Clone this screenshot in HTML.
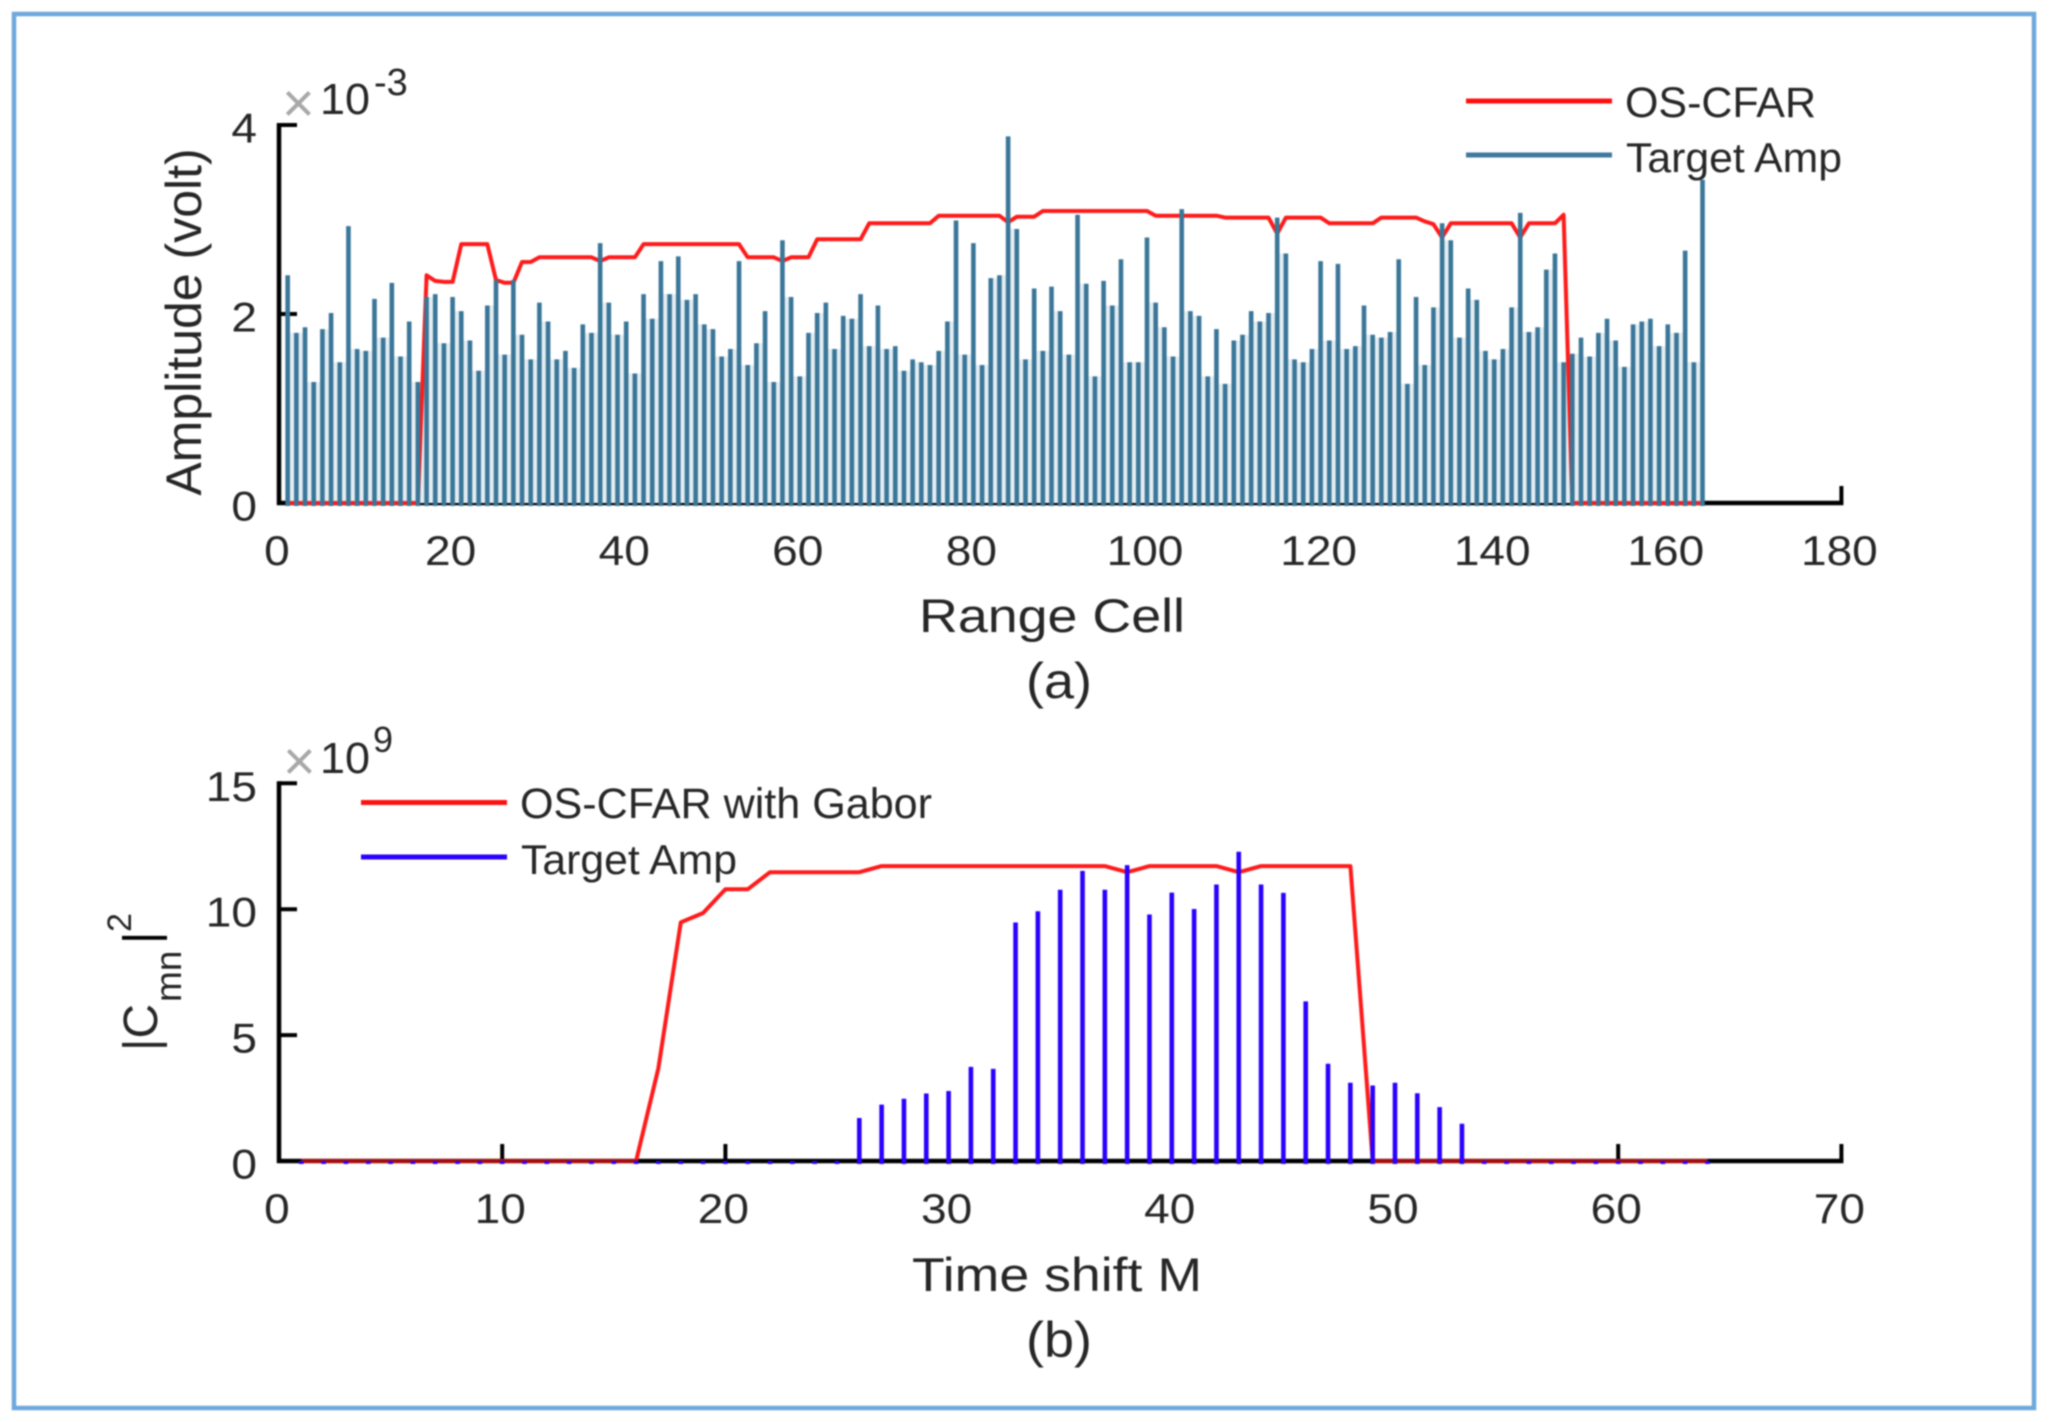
<!DOCTYPE html>
<html lang="en">
<head>
<meta charset="utf-8">
<title>OS-CFAR range cell and time shift charts</title>
<style>
html,body{margin:0;padding:0;background:#fff;width:2050px;height:1422px;overflow:hidden}
svg{display:block;filter:blur(0.85px)}
text{font-family:"Liberation Sans",sans-serif;fill:#262626}
</style>
</head>
<body>
<svg id="figure" xmlns="http://www.w3.org/2000/svg" width="2050" height="1422" viewBox="0 0 2050 1422">
  <rect x="14" y="14" width="2020" height="1394" fill="#fff" stroke="#6fa8dc" stroke-width="4.5"/>

  <g id="plotA"></g>
  <g id="plotB"></g>

  <g>
    <text x="282" y="122" font-size="56" style="fill:#a8a8a8">×</text>
    <text x="320" y="114" font-size="44" textLength="50" lengthAdjust="spacingAndGlyphs">10</text>
    <text x="374" y="95" font-size="38">-3</text>
  </g>
  <text transform="translate(201 322) rotate(-90)" text-anchor="middle" font-size="50">Amplitude (volt)</text>
  <text x="1052" y="632" text-anchor="middle" font-size="47" textLength="266" lengthAdjust="spacingAndGlyphs">Range Cell</text>
  <text x="1059" y="698" text-anchor="middle" font-size="50" textLength="66" lengthAdjust="spacingAndGlyphs">(a)</text>

  <g>
    <line x1="1466" x2="1612" y1="101" y2="101" stroke="#ff1010" stroke-width="5"/>
    <text x="1625" y="117" font-size="42.5" textLength="191" lengthAdjust="spacingAndGlyphs">OS-CFAR</text>
    <line x1="1466" x2="1612" y1="155" y2="155" stroke="#3f7a9c" stroke-width="5"/>
    <text x="1626" y="172" font-size="42" textLength="216" lengthAdjust="spacingAndGlyphs">Target Amp</text>
  </g>

  <g>
    <text x="283" y="780" font-size="56" style="fill:#a8a8a8">×</text>
    <text x="320" y="773" font-size="44" textLength="50" lengthAdjust="spacingAndGlyphs">10</text>
    <text x="373" y="752" font-size="36">9</text>
  </g>
  <g>
    <text transform="translate(157 1051) rotate(-90)" font-size="48">|C</text>
    <text transform="translate(181 1002) rotate(-90)" font-size="37">mn</text>
    <text transform="translate(157 944) rotate(-90)" font-size="48" style="fill:#000">|</text>
    <text transform="translate(131 932) rotate(-90)" font-size="34">2</text>
  </g>
  <text x="1057" y="1291" text-anchor="middle" font-size="47" textLength="290" lengthAdjust="spacingAndGlyphs">Time shift M</text>
  <text x="1059" y="1357" text-anchor="middle" font-size="50" textLength="66" lengthAdjust="spacingAndGlyphs">(b)</text>

  <g>
    <line x1="361" x2="507" y1="802.5" y2="802.5" stroke="#ff1010" stroke-width="5"/>
    <text x="520" y="818" font-size="43" textLength="412" lengthAdjust="spacingAndGlyphs">OS-CFAR with Gabor</text>
    <line x1="361" x2="507" y1="857" y2="857" stroke="#2a00ff" stroke-width="5"/>
    <text x="521" y="874" font-size="42" textLength="216" lengthAdjust="spacingAndGlyphs">Target Amp</text>
  </g>
</svg>

<script>
/* chart (a) data: index 0 = range cell 1 */
const xTicksA = [0, 20, 40, 60, 80, 100, 120, 140, 160, 180];
const yTicksA = [0, 2, 4];
const targetAmpA = [
2.41,1.80,1.86,1.28,1.84,2.01,1.49,2.93,1.63,1.61,
2.16,1.75,2.33,1.55,1.92,1.28,2.18,2.21,1.69,2.18,
2.03,1.72,1.40,2.09,2.36,1.57,2.36,1.78,1.52,2.12,
1.92,1.52,1.61,1.43,1.89,1.80,2.75,2.12,1.78,1.92,
1.37,2.21,1.95,2.56,2.21,2.61,2.15,2.21,1.89,1.84,
1.55,1.63,2.56,1.46,1.69,2.03,1.28,2.78,2.18,1.34,
1.80,2.01,2.12,1.63,1.98,1.95,2.21,1.66,2.09,1.63,
1.66,1.40,1.52,1.49,1.46,1.61,1.92,2.99,1.57,2.75,
1.46,2.38,2.41,3.88,2.90,1.52,2.27,1.61,2.29,2.03,
1.57,3.05,2.32,1.34,2.35,2.09,2.58,1.49,1.49,2.81,
2.12,1.86,1.55,3.11,2.03,1.98,1.34,1.84,1.26,1.72,
1.78,2.03,1.92,2.01,3.02,2.64,1.52,1.49,1.63,2.56,
1.72,2.53,1.63,1.66,2.09,1.78,1.75,1.81,2.58,1.26,
2.18,1.46,2.07,2.96,2.78,1.75,2.27,2.15,1.61,1.52,
1.63,2.07,3.07,1.81,1.86,2.47,2.64,1.49,1.58,1.75,
1.55,1.80,1.95,1.72,1.44,1.89,1.92,1.95,1.66,1.89,
1.80,2.67,1.49,3.42];
const osCfarA = [
0,0,0,0,0,0,0,0,0,0,0,0,0,0,0,0,
2.41,2.35,2.34,2.34,
2.74,2.74,2.74,2.74,
2.36,2.33,2.33,2.55,2.55,
2.60,2.60,2.60,2.60,2.60,2.60,2.60,
2.56,
2.60,2.60,2.60,2.60,
2.74,2.74,2.74,2.74,2.74,2.74,2.74,2.74,2.74,2.74,2.74,2.74,
2.60,2.60,2.60,2.60,
2.56,
2.60,2.60,2.60,
2.79,2.79,2.79,2.79,2.79,2.79,
2.96,2.96,2.96,2.96,2.96,2.96,2.96,2.96,
3.04,3.04,3.04,3.04,3.04,3.04,3.04,3.04,
2.97,
3.03,3.03,3.03,
3.09,3.09,3.09,3.09,3.09,3.09,3.09,3.09,3.09,3.09,3.09,3.09,3.09,
3.04,3.04,3.04,3.04,3.04,3.04,3.04,3.04,
3.02,3.02,3.02,3.02,3.02,3.02,
2.85,
3.02,3.02,3.02,3.02,3.02,
2.96,2.96,2.96,2.96,2.96,2.96,
3.02,3.02,3.02,3.02,3.02,
2.98,2.95,2.81,
2.96,2.96,2.96,2.96,2.96,2.96,2.96,2.96,
2.81,
2.96,2.96,2.96,2.96,
3.05,
0,0,0,0,0,0,0,0,0,0,0,0,0,0,0,0];

/* chart (b) data: index 0 = time shift 1 */
const xTicksB = [0, 10, 20, 30, 40, 50, 60, 70];
const yTicksB = [0, 5, 10, 15];
const targetAmpB = [
0,0,0,0,0,0,0,0,0,0,0,0,0,0,0,0,0,0,0,0,0,0,0,0,0,
1.71,2.24,2.47,2.68,2.78,3.74,3.66,9.47,9.92,10.77,
11.52,10.77,11.75,9.79,10.66,10.01,10.98,12.28,10.98,10.65,
6.34,3.86,3.11,3.00,3.11,2.69,2.14,1.48,
0,0,0,0,0,0,0,0,0,0,0];
const osCfarGabor = [
0,0,0,0,0,0,0,0,0,0,0,0,0,0,0,0,
3.69,9.48,9.85,10.79,10.79,
11.47,11.47,11.47,11.47,11.47,
11.71,11.71,11.71,11.71,11.71,11.71,11.71,11.71,11.71,11.71,11.71,
11.47,
11.71,11.71,11.71,11.71,
11.47,
11.71,11.71,11.71,11.71,11.71,
0,0,0,0,0,0,0,0,0,0,0,0,0,0,0,0];

const SVG_NS = 'http://www.w3.org/2000/svg';
const xA = v => 279 + v * 8.68;
const yA = v => 503 - v * 94.5;
const xB = v => 279 + v * 22.32;
const yB = v => 1161 - v * 25.18;

function make(parent, tag, attrs, txt) {
  const el = document.createElementNS(SVG_NS, tag);
  for (const k in attrs) el.setAttribute(k, attrs[k]);
  if (txt !== undefined) el.textContent = txt;
  parent.appendChild(el);
  return el;
}

function drawAxes(g, xFn, yFn, xTicks, yTicks, prefix) {
  const x0 = xFn(0), y0 = yFn(0);
  const xEnd = xFn(xTicks[xTicks.length - 1]);
  const yEnd = yFn(yTicks[yTicks.length - 1]);
  const yAxis = make(g, 'line', {x1: x0, x2: x0, y1: yEnd - 2, y2: y0 + 2, stroke: '#000', 'stroke-width': 4.5});
  
  
  const xAxis = make(g, 'line', {x1: x0 - 2, x2: xEnd + 2, y1: y0, y2: y0, stroke: '#000', 'stroke-width': 4.5});
  
  
  xTicks.forEach(t => {
    const tick = make(g, 'line', {x1: xFn(t), x2: xFn(t), y1: y0, y2: y0 - 17, stroke: '#000', 'stroke-width': 4});
    
    
    const s = String(t);
    const label = make(g, 'text', {x: xFn(t) - 2, y: y0 + 62, 'text-anchor': 'middle', 'font-size': 42,
      textLength: (s.length * 0.556 * 46).toFixed(1), lengthAdjust: 'spacingAndGlyphs'}, s);
    
    
  });
  yTicks.forEach(t => {
    const tick = make(g, 'line', {x1: x0, x2: x0 + 18, y1: yFn(t), y2: yFn(t), stroke: '#000', 'stroke-width': 4});
    
    
    const s = String(t);
    const label = make(g, 'text', {x: 257, y: yFn(t) + 17.5, 'text-anchor': 'end', 'font-size': 42,
      textLength: (s.length * 0.556 * 46).toFixed(1), lengthAdjust: 'spacingAndGlyphs'}, s);
    
    
  });
}

function linePoints(values, xFn, yFn) {
  return values.map((v, i) => xFn(i + 1).toFixed(1) + ',' + yFn(v).toFixed(1)).join(' ');
}

function drawStems(g, values, xFn, yFn, color, width, prefix) {
  const y0 = yFn(0);
  values.forEach((v, i) => {
    const stem = make(g, 'line', {x1: xFn(i + 1), x2: xFn(i + 1), y1: y0 + 3, y2: yFn(v), stroke: color, 'stroke-width': width});
    
    
  });
}

/* pale halo visible between neighbouring stems, as in the resampled original */
function drawGapTint(g, values, xFn, yFn, color) {
  for (let i = 0; i < values.length - 1; i++) {
    const low = Math.min(values[i], values[i + 1]);
    const mid = (xFn(i + 1) + xFn(i + 2)) / 2;
    const tint = make(g, 'line', {x1: mid, x2: mid, y1: yFn(0), y2: yFn(low), stroke: color, 'stroke-width': 5});
    
    
  }
}

const plotA = document.getElementById('plotA');
drawAxes(plotA, xA, yA, xTicksA, yTicksA, 'chart-a');
drawGapTint(plotA, targetAmpA, xA, yA, '#e4edf2');
const redA = make(plotA, 'polyline', {points: linePoints(osCfarA, xA, yA), fill: 'none', stroke: '#ff1a1a', 'stroke-width': 4, 'stroke-linejoin': 'round'});


drawStems(plotA, targetAmpA, xA, yA, '#3a7698', 4.6, 'target-amp-a');

const plotB = document.getElementById('plotB');
drawAxes(plotB, xB, yB, xTicksB, yTicksB, 'chart-b');
const redB = make(plotB, 'polyline', {points: linePoints(osCfarGabor, xB, yB), fill: 'none', stroke: '#ff1a1a', 'stroke-width': 4, 'stroke-linejoin': 'round'});


const shade = make(plotB, 'line', {x1: xB(0), x2: xB(70), y1: yB(0), y2: yB(0), stroke: '#000', 'stroke-width': 3, 'stroke-opacity': 0.4});


drawStems(plotB, targetAmpB, xB, yB, '#2a00ff', 4.6, 'target-amp-b');
</script>
</body>
</html>
